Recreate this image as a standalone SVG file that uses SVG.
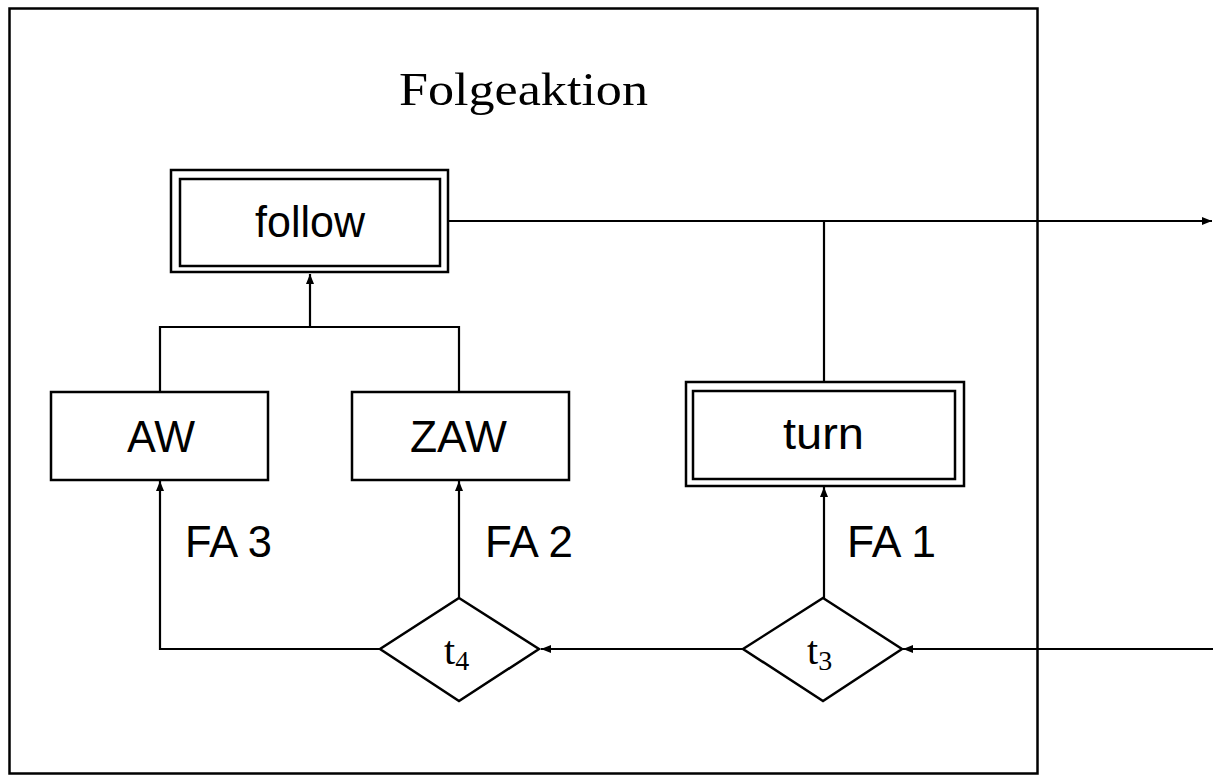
<svg xmlns="http://www.w3.org/2000/svg" width="1213" height="776" viewBox="0 0 1213 776">
<style>
.box{fill:#fff;stroke:#000;stroke-width:2.5}
.ln{fill:none;stroke:#000;stroke-width:2.2}
.sans{font-family:"Liberation Sans","DejaVu Sans",sans-serif;font-size:44px;fill:#000}
.serif{font-family:"Liberation Serif","DejaVu Serif",serif;fill:#000}
</style>
<defs>
<marker id="ah" viewBox="0 0 10 8" refX="10" refY="4" markerWidth="10" markerHeight="8" markerUnits="userSpaceOnUse" orient="auto">
<path d="M0,0 L10,4 L0,8 Z" fill="#000"/>
</marker>
</defs>
<rect width="1213" height="776" fill="#fff"/>
<rect x="9.5" y="8.5" width="1028" height="765" fill="none" stroke="#000" stroke-width="2.5"/>
<text class="serif" x="399" y="105" font-size="47" textLength="249" lengthAdjust="spacingAndGlyphs">Folgeaktion</text>
<g id="connectors">
<path class="ln" d="M448,221 H1212" marker-end="url(#ah)"/>
<path class="ln" d="M824,382 V221"/>
<path class="ln" d="M160,392 V327 H459 V392"/>
<path class="ln" d="M310,327 V274" marker-end="url(#ah)"/>
<path class="ln" d="M1213,649 H903" marker-end="url(#ah)"/>
<path class="ln" d="M743,649 H541" marker-end="url(#ah)"/>
<path class="ln" d="M380,649 H160 V481" marker-end="url(#ah)"/>
<path class="ln" d="M459,598 V481" marker-end="url(#ah)"/>
<path class="ln" d="M824,598 V487" marker-end="url(#ah)"/>
</g>
<g id="follow">
<rect class="box" x="171" y="170" width="277" height="102"/>
<rect class="box" x="180" y="179" width="260" height="87"/>
<text class="sans" x="255" y="237" textLength="110" lengthAdjust="spacingAndGlyphs">follow</text>
</g>
<g id="AW">
<rect class="box" x="51" y="392" width="217" height="88"/>
<text class="sans" x="127" y="452" textLength="68" lengthAdjust="spacingAndGlyphs">AW</text>
</g>
<g id="ZAW">
<rect class="box" x="352" y="392" width="217" height="88"/>
<text class="sans" x="410" y="452" textLength="97" lengthAdjust="spacingAndGlyphs">ZAW</text>
</g>
<g id="turn">
<rect class="box" x="686" y="382" width="278" height="104"/>
<rect class="box" x="693" y="391" width="262" height="88"/>
<text class="sans" x="783" y="449" textLength="81" lengthAdjust="spacingAndGlyphs">turn</text>
</g>
<g id="t4">
<polygon class="box" points="459,598 539,649 459,701 380,649"/>
<text class="serif" x="444" y="664" font-size="40">t<tspan font-size="28" dy="6">4</tspan></text>
</g>
<g id="t3">
<polygon class="box" points="823,598 902,649 823,701 743,649"/>
<text class="serif" x="807" y="664" font-size="40">t<tspan font-size="28" dy="6">3</tspan></text>
</g>
<g id="labels">
<text class="sans" x="185" y="557" textLength="87" lengthAdjust="spacingAndGlyphs">FA 3</text>
<text class="sans" x="485" y="557" textLength="88" lengthAdjust="spacingAndGlyphs">FA 2</text>
<text class="sans" x="847" y="557" textLength="89" lengthAdjust="spacingAndGlyphs">FA 1</text>
</g>
</svg>
